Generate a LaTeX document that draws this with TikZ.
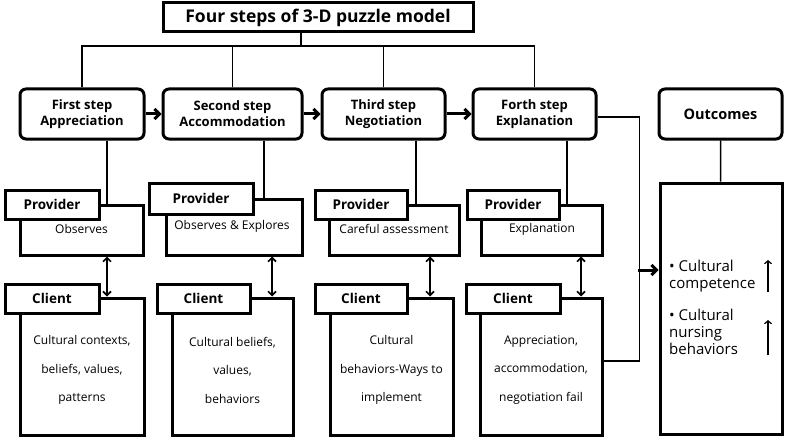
\documentclass[tikz,border=0pt]{standalone}
\usepackage{fontspec}
\setmainfont{Open Sans}
\usetikzlibrary{arrows.meta}

\begin{document}
\begin{tikzpicture}[x=1pt,y=-1pt,
  stepbox/.style={draw,line width=3pt,rounded corners=6pt,minimum height=50pt,
    inner sep=0pt,align=center,font=\bfseries\fontsize{13}{16}\selectfont},
  tagbox/.style={draw,fill=white,line width=3pt,minimum height=29pt,inner sep=0pt,
    font=\bfseries\fontsize{13.5}{15}\selectfont},
  bodybox/.style={draw,line width=3pt,inner sep=0pt},
  bodytext/.style={align=center,font=\fontsize{12}{28.5}\selectfont},
  outtext/.style={anchor=base west,inner sep=0pt,align=left,font=\fontsize{15}{17}\selectfont},
  link/.style={line width=1.6pt},
  flow/.style={line width=3pt,-{Straight Barb[length=5pt,width=10pt]}},
  both/.style={line width=1.6pt,{Straight Barb[length=4pt,width=8pt]}-{Straight Barb[length=4pt,width=8pt]}},
  rise/.style={line width=1.2pt,-{Straight Barb[length=3pt,width=7pt]}}]
  \useasboundingbox (0,0) rectangle (789,441);
  % Title
  \node[draw,line width=3pt,minimum width=310pt,minimum height=29pt,inner sep=0pt,
    font=\bfseries\fontsize{17.5}{21}\selectfont] (title) at (318,17.5) {Four steps of 3-D puzzle model};
  \coordinate (bus) at (301,46);
  % Steps
  \node[stepbox,minimum width=124pt] (s1) at (82,114) {First step\\Appreciation};
  \node[stepbox,minimum width=139pt] (s2) at (232.5,114) {Second step\\Accommodation};
  \node[stepbox,minimum width=123pt] (s3) at (383.5,114) {Third step\\Negotiation};
  \node[stepbox,minimum width=123pt] (s4) at (534.5,114) {Forth step\\Explanation};
  \node[stepbox,minimum width=123pt,font=\bfseries\fontsize{14.5}{16}\selectfont] (out) at (720.5,114) {Outcomes};
  \draw[link] (title.south -| bus) -- (bus);
  \draw[link] (s1.north) |- (bus) -| (s4.north);
  \draw[link] (s2.north) -- (s2.north |- bus);
  \draw[link] (s3.north) -- (s3.north |- bus);
  \draw[flow] (s1) -- (s2);
  \draw[flow] (s2) -- (s3);
  \draw[flow] (s3) -- (s4);
  % First step
  \node[bodybox,minimum width=123pt,minimum height=50pt] (p1) at (81.5,230) {};
  \node[tagbox,minimum width=94pt] (pt1) at (52,204.5) {Provider};
  \node[bodytext] (p1t) at (81.5,229) {Observes};
  \node[bodybox,minimum width=124pt,minimum height=137pt] (c1) at (82,366.5) {};
  \node[tagbox,minimum width=94pt] (ct1) at (52,298.5) {Client};
  \node[bodytext] (c1t) at (82,370) {Cultural contexts,\\beliefs, values,\\patterns};
  \draw[link] (s1.south -| 107,0) -- (p1.north -| 107,0);
  \draw[both] (p1.south -| 107,0) -- (c1.north -| 107,0);
  % Second step
  \node[bodybox,minimum width=136pt,minimum height=56pt] (p2) at (234,227) {};
  \node[tagbox,minimum width=104pt,minimum height=31pt] (pt2) at (201,198.5) {Provider};
  \node[bodytext] (p2t) at (232,226) {Observes \& Explores};
  \node[bodybox,minimum width=121pt,minimum height=137pt] (c2) at (232.5,366.5) {};
  \node[tagbox,minimum width=93pt] (ct2) at (203.5,298.5) {Client};
  \node[bodytext] (c2t) at (232.5,370) {Cultural beliefs,\\values,\\behaviors};
  \draw[link] (s2.south -| 264,0) -- (p2.north -| 264,0);
  \draw[both] (p2.south -| 272,0) -- (c2.north -| 272,0);
  % Third step
  \node[bodybox,minimum width=130pt,minimum height=50pt] (p3) at (394,230) {};
  \node[tagbox,minimum width=92pt] (pt3) at (361,204.5) {Provider};
  \node[bodytext] (p3t) at (394,229) {Careful assessment};
  \node[bodybox,minimum width=123pt,minimum height=137pt] (c3) at (391.5,366.5) {};
  \node[tagbox,minimum width=92pt] (ct3) at (361,298.5) {Client};
  \node[bodytext] (c3t) at (391.5,370) {Cultural\\behaviors-Ways to\\implement};
  \draw[link] (s3.south -| 416,0) -- (p3.north -| 416,0);
  \draw[both] (p3.south -| 430,0) -- (c3.north -| 430,0);
  % Forth step
  \node[bodybox,minimum width=121pt,minimum height=50pt] (p4) at (541.5,230) {};
  \node[tagbox,minimum width=92pt] (pt4) at (513,204.5) {Provider};
  \node[bodytext] (p4t) at (542,229) {Explanation};
  \node[bodybox,minimum width=122pt,minimum height=137pt] (c4) at (541,366.5) {};
  \node[tagbox,minimum width=94pt] (ct4) at (513,298.5) {Client};
  \node[bodytext] (c4t) at (541,370) {Appreciation,\\accommodation,\\negotiation fail};
  \draw[link] (s4.south -| 567,0) -- (p4.north -| 567,0);
  \draw[both] (p4.south -| 581,0) -- (c4.north -| 581,0);
  % Outcomes
  \node[bodybox,minimum width=122pt,minimum height=251pt] (outb) at (721,308.5) {};
  \node[outtext] (o1) at (669,288) {• Cultural\\competence};
  \node[outtext] (o2) at (669,354) {• Cultural\\nursing\\behaviors};
  \draw[rise] (768,292) -- (768,260);
  \draw[rise] (768,355) -- (768,320);
  \draw[link] (out) -- (outb);
  \draw[link] ([yshift=-3pt]s4.east) -- ++(42,0) |- ([yshift=5.5pt]c4.east);
  \draw[flow] (638,270) -- (outb.west |- 0,270);
\end{tikzpicture}
\end{document}
